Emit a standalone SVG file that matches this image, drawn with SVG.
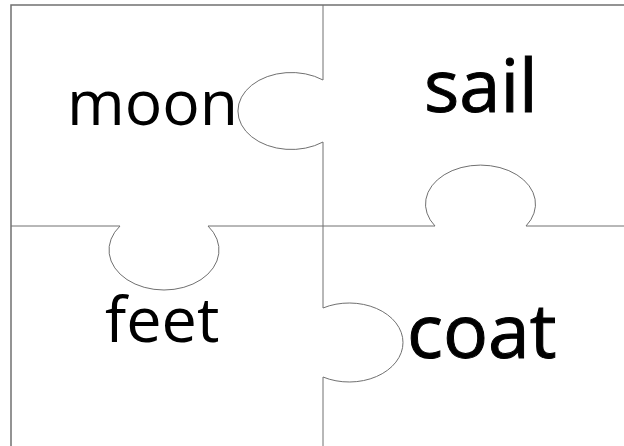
<svg xmlns="http://www.w3.org/2000/svg" width="624" height="446" viewBox="0 0 624 446">
<style>
.cut{fill:none;stroke:#707070;stroke-width:1}
.border{fill:none;stroke:#707070;stroke-width:1.5}
.w{font-family:"Open Sans","DejaVu Sans",sans-serif;fill:#000}
.c{stroke:#000;stroke-width:1}
</style>
<rect width="624" height="446" fill="#fff"/>
<g id="connectors">
<path class="border" d="M11,446 V5 H624"/>
<path class="cut" d="M323,5 V80 A53.4,38.5 0 1 0 323,142 V308 A53.8,39.5 0 1 1 323,377 V446"/>
<path class="cut" d="M11,226 H120 A55,40 0 1 0 208,226 H435 A55,39 0 1 1 526,226 H624"/>
</g>
<g id="moon"><text class="w" x="67" y="125" font-size="63" textLength="171" lengthAdjust="spacingAndGlyphs">moon</text></g>
<g id="sail"><text class="w c" x="424" y="112" font-size="74">sail</text></g>
<g id="feet"><text class="w" x="105" y="342" font-size="63">feet</text></g>
<g id="coat"><text class="w c" x="407" y="358" font-size="75">coat</text></g>
</svg>
